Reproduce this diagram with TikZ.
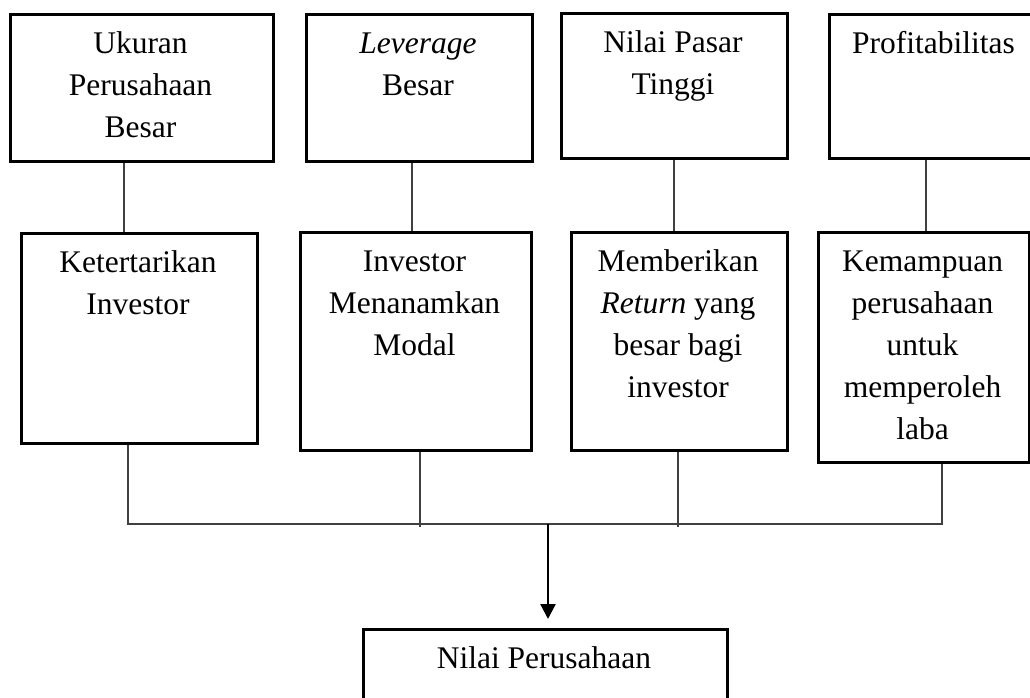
\documentclass[tikz,border=0pt]{standalone}
\usepackage{fontspec}
\setmainfont{Liberation Serif}
\usetikzlibrary{arrows.meta}
\tikzset{
  boxnode/.style={draw=black, line width=2.6pt, rectangle, inner sep=0pt, anchor=north west},
  txt/.style={anchor=north, inner sep=0pt, align=center, font=\fontsize{31.5}{42}\selectfont},
  link/.style={draw=black!75, line width=1.3pt},
  flow/.style={draw=black, line width=2.4pt, -{Triangle[width=15pt,length=15pt]}},
}
\begin{document}
\begin{tikzpicture}[x=1pt,y=-1pt]
\useasboundingbox (0,0) rectangle (1030,698);
% top boxes
\node[boxnode, minimum width=263pt, minimum height=147pt] (T1) at (9,13) {};
\node[boxnode, minimum width=226pt, minimum height=147pt] (T2) at (305,13) {};
\node[boxnode, minimum width=226pt, minimum height=145pt] (T3) at (560,12) {};
\node[boxnode, minimum width=211pt, minimum height=144pt] (T4) at (828,13) {};
\node[txt] (t1) at (140.5,28.5) {\rule{0pt}{25pt}Ukuran\\Perusahaan\\Besar};
\node[txt] (t2) at (418,28.5) {\rule{0pt}{25pt}\textit{Leverage}\\Besar};
\node[txt] (t3) at (673,27.5) {\rule{0pt}{25pt}Nilai Pasar\\Tinggi};
\node[txt] (t4) at (933.5,28.5) {\rule{0pt}{25pt}Profitabilitas};
% middle boxes
\node[boxnode, minimum width=236pt, minimum height=210pt] (M1) at (20,232) {};
\node[boxnode, minimum width=231pt, minimum height=218pt] (M2) at (299,231) {};
\node[boxnode, minimum width=216pt, minimum height=218pt] (M3) at (570,231) {};
\node[boxnode, minimum width=211pt, minimum height=230pt] (M4) at (817,231) {};
\node[txt] (m1) at (138,247) {\rule{0pt}{25pt}Ketertarikan\\Investor};
\node[txt] (m2) at (414.5,246.5) {\rule{0pt}{25pt}Investor\\Menanamkan\\Modal};
\node[txt] (m3) at (678,246.5) {\rule{0pt}{25pt}Memberikan\\\textit{Return} yang\\besar bagi\\investor};
\node[txt] (m4) at (922.5,246.5) {\rule{0pt}{25pt}Kemampuan\\perusahaan\\untuk\\memperoleh\\laba};
% bottom box
\node[boxnode, minimum width=364pt, minimum height=100pt] (B) at (362,628) {};
\node[txt] (b) at (544,643.5) {\rule{0pt}{25pt}Nilai Perusahaan};
% connector coordinates
\coordinate (c1) at (124,0);
\coordinate (c2) at (412,0);
\coordinate (c3) at (674,0);
\coordinate (c4) at (926,0);
\coordinate (d1) at (128,524);
\coordinate (d2) at (420,527);
\coordinate (d3) at (678,527);
\coordinate (d4) at (942,524);
\coordinate (a) at (548,524);
% top to middle
\draw[link] (c1 |- T1.south) -- (c1 |- M1.north);
\draw[link] (c2 |- T2.south) -- (c2 |- M2.north);
\draw[link] (c3 |- T3.south) -- (c3 |- M3.north);
\draw[link] (c4 |- T4.south) -- (c4 |- M4.north);
% middle to bus
\draw[link] (d1 |- M1.south) -- (d1) -- (d4) -- (d4 |- M4.south);
\draw[link] (d2 |- M2.south) -- (d2);
\draw[link] (d3 |- M3.south) -- (d3);
% arrow
\draw[flow, shorten >=9pt] (a) -- (a |- B.north);
\end{tikzpicture}
\end{document}
